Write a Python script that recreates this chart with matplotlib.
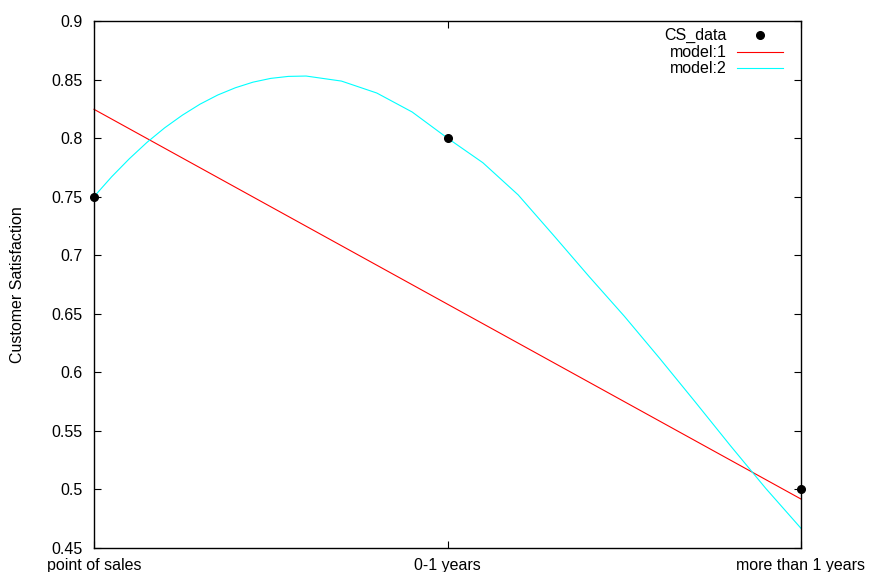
import matplotlib
matplotlib.use("Agg")
import matplotlib.pyplot as plt
from matplotlib.ticker import FuncFormatter

plt.rcParams['font.family'] = ['Liberation Sans', 'DejaVu Sans']

# data
categories = ["point of sales", "0-1 years", "more than 1 years"]
cs_x = [0, 1, 2]
cs_data = [0.75, 0.8, 0.5]

model1_x = [0, 2]
model1_y = [0.8246, 0.4918]

model2_x = [0.0, 0.05, 0.1, 0.15, 0.2, 0.25, 0.3, 0.35, 0.4, 0.45, 0.5, 0.55, 0.6,
            0.7, 0.8, 0.9, 1.0, 1.1, 1.2, 1.3, 1.4, 1.5, 1.6, 1.7, 1.8, 1.9, 2.0]
model2_y = [0.75, 0.7670, 0.7824, 0.7964, 0.8088, 0.8196, 0.829, 0.8368, 0.843, 0.8478,
            0.851, 0.8527, 0.853, 0.8487, 0.8385, 0.8223, 0.800, 0.779, 0.7515, 0.717,
            0.682, 0.648, 0.612, 0.575, 0.5375, 0.501, 0.4668]

yticks = [0.45, 0.5, 0.55, 0.6, 0.65, 0.7, 0.75, 0.8, 0.85, 0.9]

fs = 11.5
fig = plt.figure(figsize=(8.69, 5.72), dpi=100)
ax = fig.add_axes([94/869, 1 - 548/572, 707/869, 527/572])

ax.plot(model1_x, model1_y, color="#ff0000", lw=0.8, clip_on=False)
ax.plot(model2_x, model2_y, color="#00ffff", lw=0.8, clip_on=False)
ax.plot(cs_x, cs_data, "o", color="black", ms=5.5, clip_on=False, zorder=5)

ax.set_xlim(0, 2)
ax.set_ylim(0.45, 0.9)
ax.set_xticks(cs_x)
ax.set_xticklabels(categories)
ax.set_yticks(yticks)
ax.yaxis.set_major_formatter(FuncFormatter(lambda v, p: "%g" % round(v, 2)))
ax.tick_params(direction="in", length=5, width=0.8, top=True, right=True,
               labelsize=fs, colors="black")
ax.tick_params(axis="y", pad=8)
ax.tick_params(axis="x", pad=7)
for s in ax.spines.values():
    s.set_linewidth(1.0)
ax.set_ylabel("Customer Satisfaction", fontsize=fs)
ax.yaxis.set_label_coords(-(94 - 25) / 707, 0.5)

# gnuplot-style key, labels right aligned, sample on the right
labels = ["CS_data", "model:1", "model:2"]
rows = [0.9734, 0.941, 0.9108]
for lab, yy in zip(labels, rows):
    ax.text(0.8953, yy, lab, transform=ax.transAxes, ha="right", va="center", fontsize=fs)
ax.plot([0.942], [rows[0]], "o", color="black", ms=5.5, transform=ax.transAxes)
ax.plot([0.9095, 0.9745], [rows[1]] * 2, color="#ff0000", lw=0.8, transform=ax.transAxes)
ax.plot([0.9095, 0.9745], [rows[2]] * 2, color="#00ffff", lw=0.8, transform=ax.transAxes)

fig.savefig("out.png", dpi=100)
